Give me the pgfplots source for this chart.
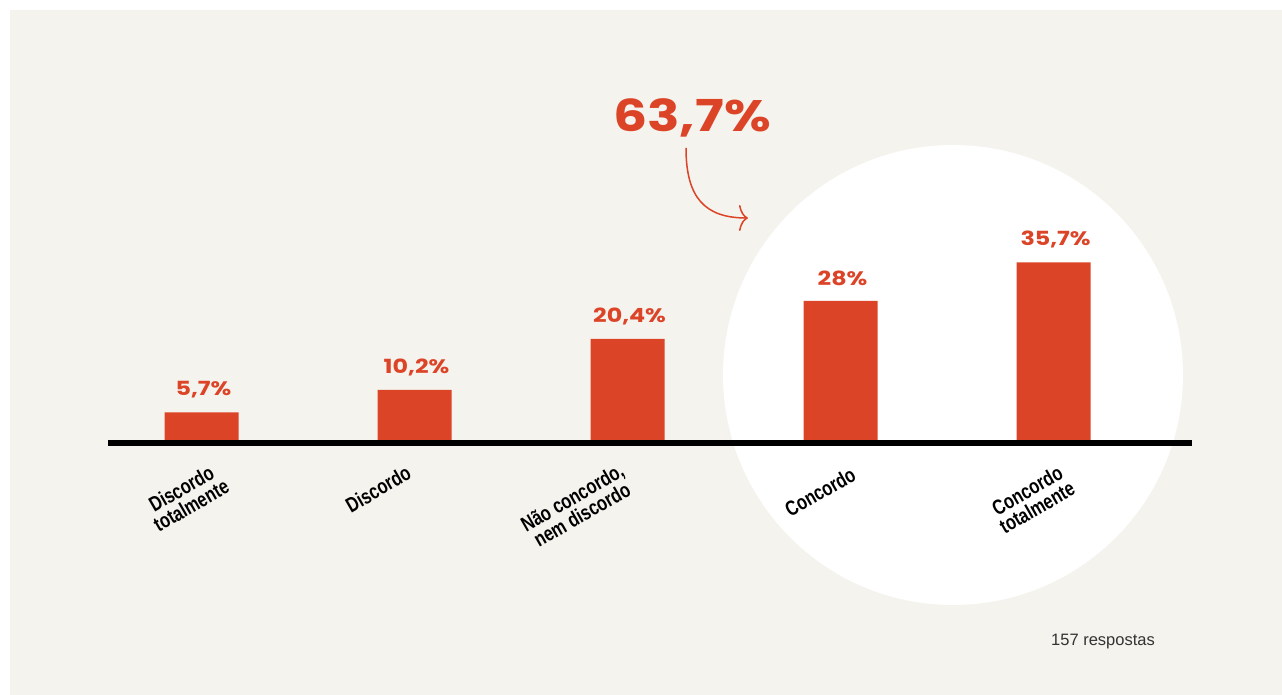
\documentclass[border=0pt]{standalone}
\usepackage{pgfplots}
\pgfplotsset{compat=1.18}
\usepackage{fontspec}
\setmainfont{Liberation Sans}
\newfontfamily\widefont{Poppins}[FakeStretch=1.22]
\newfontfamily\condfont{Liberation Sans}[FakeStretch=0.78]
\usetikzlibrary{arrows.meta}
\definecolor{bg}{HTML}{F5F3EE}
\definecolor{barred}{HTML}{DC4428}
\definecolor{txt}{HTML}{333333}
\begin{document}
\begin{tikzpicture}
\fill[white] (0pt,0pt) rectangle (1282pt,695pt);
\fill[bg] (10pt,0pt) rectangle (1282pt,685pt);
\fill[white] (953pt,320pt) circle (230pt);
\begin{axis}[at={(108pt,254pt)}, anchor=south west, scale only axis,
  width=1084pt, height=200pt, xmin=-0.439, xmax=4.650, ymin=0, ymax=40,
  hide axis, clip=false, ybar, bar width=74pt, bar shift=0pt,
  point meta=explicit symbolic, nodes near coords,
  every node near coord/.append style={anchor=center, yshift=23pt, xshift=2pt,
    font=\widefont\bfseries\fontsize{19.5}{19.5}\selectfont, text=barred}]
\addplot[fill=barred, draw=none] coordinates {
  (0,5.7) [5,7\%]
  (1,10.2) [10,2\%]
  (2,20.4) [20,4\%]
  (3,28) [28\%]
  (4,35.7) [35,7\%]
};
\draw[line width=6pt, black] (axis cs:-0.439,-0.4) -- (axis cs:4.650,-0.4);
\begin{scope}[every node/.style={rotate=30, align=center, inner sep=1pt,
    font=\condfont\bfseries\fontsize{21}{19.5}\selectfont, text=black}]
\node at (axis cs:-0.072,-11.2) {Discordo\\totalmente};
\node at (axis cs:0.829,-9.6) {Discordo};
\node at (axis cs:1.763,-13) {Não concordo,\\nem discordo};
\node at (axis cs:2.904,-10.2) {Concordo};
\node at (axis cs:3.899,-11.6) {Concordo\\totalmente};
\end{scope}
\end{axis}
\node[text=barred, font=\widefont\bfseries\fontsize{44}{44}\selectfont] at (692pt,577pt) {63,7\%};
\draw[barred, line width=1.5pt, -{To[length=9pt,width=26pt]}] (686pt,547pt) .. controls (686pt,497pt) and (705pt,477pt) .. (748pt,477pt);
\node[text=txt, font=\fontsize{16.5}{17}\selectfont] at (1103pt,53pt) {157 respostas};
\end{tikzpicture}
\end{document}
